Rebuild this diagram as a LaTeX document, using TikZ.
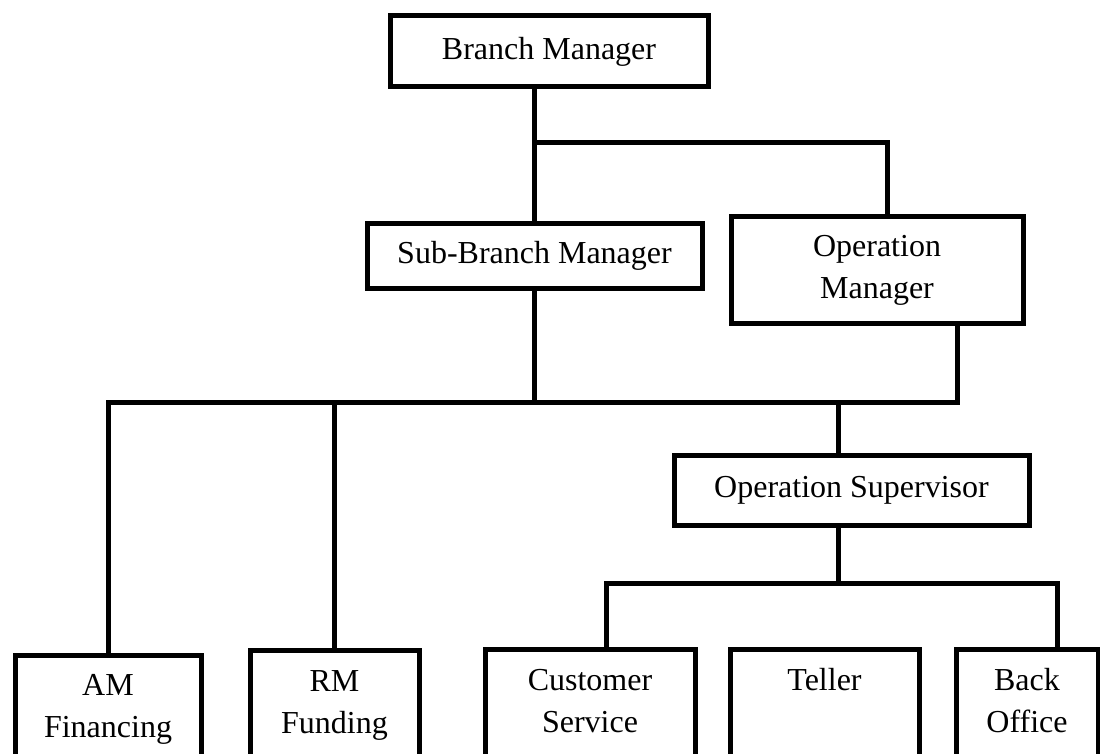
\documentclass[tikz,border=0pt]{standalone}
\usepackage{fontspec}
\setmainfont{Liberation Serif}
\begin{document}
\begin{tikzpicture}[x=1pt,y=-1pt,
  box/.style={draw, line width=5pt, rectangle, inner sep=0pt, outer sep=0pt, align=center, font=\fontsize{32}{42}\selectfont},
  leaf/.style={draw, line width=5pt, rectangle, inner sep=0pt, outer sep=0pt, anchor=north, minimum height=200pt},
  leaftext/.style={anchor=north, inner sep=0pt, align=center, font=\fontsize{32}{42}\selectfont},
  conn/.style={line width=5pt}]
\useasboundingbox (0,0) rectangle (1100,754);
\clip (0,0) rectangle (1100,754);
% top level boxes
\node[box, minimum width=318pt, minimum height=71pt] (bm) at (549,51.5) {Branch Manager};
\node[box, minimum width=335pt, minimum height=65.5pt] (sb) at (534.5,256) {Sub-Branch Manager};
\node[box, minimum width=292pt, minimum height=106pt] (om) at (877,270) {Operation\\Manager};
\node[box, minimum width=355pt, minimum height=70pt] (os) at (851.5,490) {Operation Supervisor};
% bottom boxes
\node[leaf, minimum width=186pt] (am) at (108,655) {};
\node[leaf, minimum width=169pt] (rm) at (334.5,650) {};
\node[leaf, minimum width=210pt] (cs) at (590,649) {};
\node[leaf, minimum width=189pt] (te) at (824.5,649) {};
\node[leaf, minimum width=142pt] (bo) at (1027,649) {};
\node[leaftext] (amt) at ([yshift=-11pt]am.north) {\strut AM\\Financing};
\node[leaftext] (rmt) at ([yshift=-12pt]rm.north) {\strut RM\\Funding};
\node[leaftext] (cst) at ([yshift=-12pt]cs.north) {\strut Customer\\Service};
\node[leaftext] (tet) at ([yshift=-12pt]te.north) {\strut Teller};
\node[leaftext] (bot) at ([yshift=-12pt]bo.north) {\strut Back\\Office};
% junction coordinates
\coordinate (j1) at (534,143);
\coordinate (j2) at (534,402);
\coordinate (j3) at (838,583);
\coordinate (omt) at ([xshift=10pt]om.north);
\coordinate (omb) at ([xshift=80pt]om.south);
\coordinate (ost) at ([xshift=-13.5pt]os.north);
\coordinate (osb) at ([xshift=-13.5pt]os.south);
\coordinate (csn) at ([xshift=16pt]cs.north);
\coordinate (bon) at ([xshift=30pt]bo.north);
% connectors
\draw[conn] (sb.north |- bm.south) -- (sb.north);
\draw[conn] (j1) -| (omt);
\draw[conn] (sb.south) -- (sb.south |- j2);
\draw[conn] (am.north) |- (omb |- j2) -- (omb);
\draw[conn] (rm.north) -- (rm.north |- j2);
\draw[conn] (ost |- j2) -- (ost);
\draw[conn] (osb) -- (j3);
\draw[conn] (csn) |- (j3) -| (bon);
\end{tikzpicture}
\end{document}
